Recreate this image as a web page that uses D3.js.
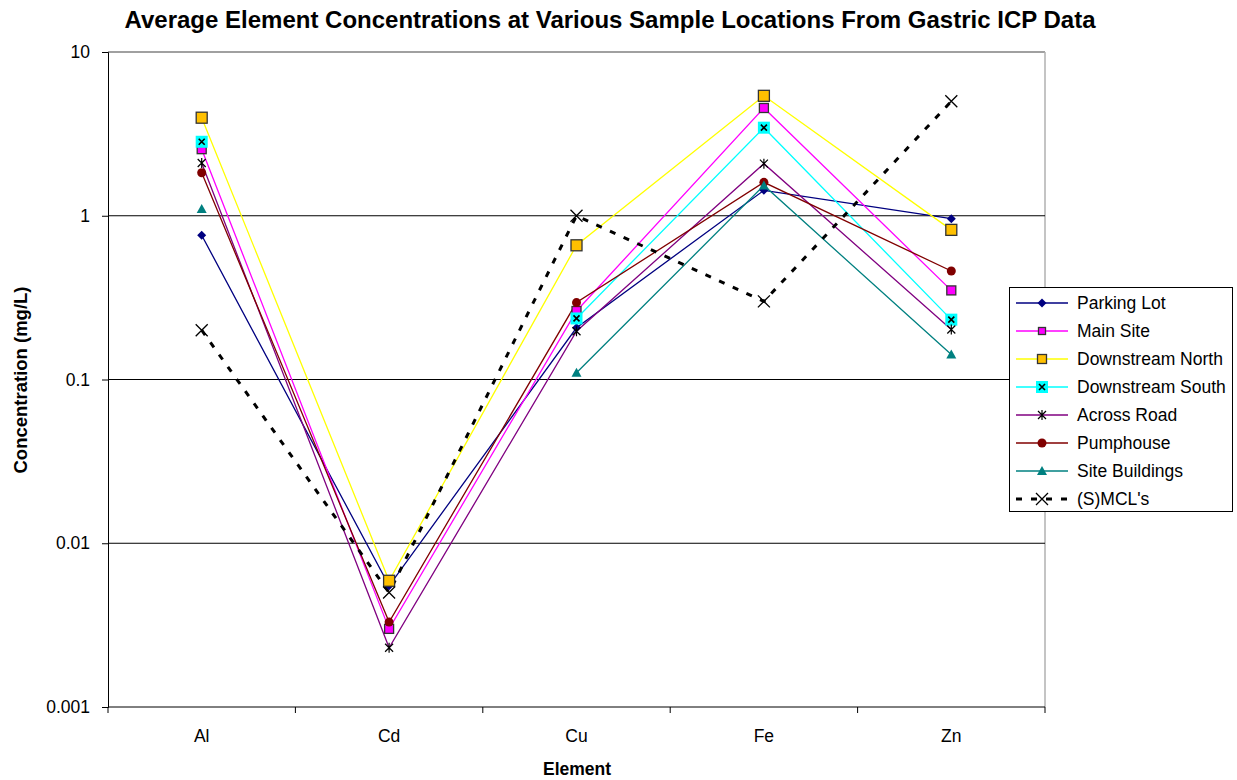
<!DOCTYPE html>
<html><head><meta charset="utf-8">
<script src="https://cdn.jsdelivr.net/npm/d3@7"></script>
<style>body{margin:0;background:#fff;} text{font-family:Arial,"Liberation Sans",sans-serif;}</style>
</head><body><svg id="c" width="1237" height="780"></svg>
<script>
const categories = ["Al","Cd","Cu","Fe","Zn"];
const yTicks = [0.001,0.01,0.1,1,10];
const seriesNames = ["Parking Lot","Main Site","Downstream North","Downstream South","Across Road","Pumphouse","Site Buildings","(S)MCL's"];
const parkingLot      = [0.76, 0.0055, 0.207, 1.43, 0.96];
const mainSite        = [2.55, 0.0030, 0.262, 4.55, 0.35];
const downstreamNorth = [3.97, 0.0059, 0.66, 5.4, 0.82];
const downstreamSouth = [2.83, null, 0.236, 3.45, 0.232];
const acrossRoad      = [2.1, 0.0023, 0.197, 2.08, 0.202];
const pumphouse       = [1.83, 0.0033, 0.295, 1.6, 0.46];
const siteBuildings   = [1.1, null, 0.11, 1.53, 0.142];
const mcl             = [0.2, 0.005, 1.0, 0.3, 5.0];

const styles = [
  {line:"#000080", marker:"diamond", fill:"#000080", stroke:"none"},
  {line:"#FF00FF", marker:"square", fill:"#FF00FF", stroke:"#333", size:9},
  {line:"#FFFF00", marker:"square", fill:"#FFC000", stroke:"#333", size:11},
  {line:"#00FFFF", marker:"xsquare", fill:"#00FFFF", stroke:"#000"},
  {line:"#800080", marker:"asterisk", fill:"none", stroke:"#000"},
  {line:"#800000", marker:"circle", fill:"#800000", stroke:"none"},
  {line:"#008080", marker:"triangle", fill:"#008080", stroke:"none"},
  {line:"#000", marker:"x", fill:"none", stroke:"#000", dash:"6,9", width:3}
];
const data = [parkingLot, mainSite, downstreamNorth, downstreamSouth, acrossRoad, pumphouse, siteBuildings, mcl];

const FS = 17.5;
const svg = d3.select("#c");
const L=108, R=1045, T=52, B=707;
const x = d3.scaleBand().domain(categories).range([L,R]);
const y = d3.scaleLog().domain([0.001,10]).range([B,T]);

// plot border
svg.append("line").attr("x1",L).attr("x2",R).attr("y1",T).attr("y2",T).attr("stroke","#808080").attr("stroke-width",1.5);
svg.append("line").attr("x1",R).attr("x2",R).attr("y1",T).attr("y2",B).attr("stroke","#b0b0b0").attr("stroke-width",1.5);
// gridlines
svg.append("g").selectAll("line").data(yTicks.filter(v=>v>0.001&&v<10)).join("line")
  .attr("x1",L).attr("x2",R).attr("y1",d=>y(d)).attr("y2",d=>y(d)).attr("stroke","#000").attr("stroke-width",1);

// y axis
const yAxis = d3.axisLeft(y).tickValues(yTicks).tickFormat(d=>String(d)).tickSizeOuter(0).tickSize(6).tickPadding(12);
const gy = svg.append("g").attr("transform",`translate(${L},0)`).call(yAxis);
gy.select(".domain").attr("stroke","#000");
gy.selectAll("text").attr("font-size",FS).attr("fill","#000").attr("font-family","Arial, 'Liberation Sans', sans-serif");
// x axis
const gx = svg.append("g").attr("transform",`translate(0,${B})`);
gx.append("line").attr("x1",L).attr("x2",R).attr("stroke","#000");
const bounds = categories.map(c=>x(c)).concat([R]);
gx.selectAll(".tk").data(bounds).join("line").attr("class","tk").attr("x1",d=>d).attr("x2",d=>d).attr("y1",0).attr("y2",6).attr("stroke","#000");
gx.selectAll(".lb").data(categories).join("text").attr("class","lb")
  .attr("x",d=>x(d)+x.bandwidth()/2).attr("y",35).attr("text-anchor","middle").attr("font-size",FS).text(d=>d);

// titles
svg.append("text").attr("x",610).attr("y",28).attr("text-anchor","middle").attr("font-size",24).attr("font-weight","bold").text("Average Element Concentrations at Various Sample Locations From Gastric ICP Data");
svg.append("text").attr("x",577).attr("y",775).attr("text-anchor","middle").attr("font-size",FS).attr("font-weight","bold").text("Element");
svg.append("text").attr("transform","translate(27,380) rotate(-90)").attr("text-anchor","middle").attr("font-size",18.5).attr("font-weight","bold").text("Concentration (mg/L)");

function drawMarker(g, st, cx, cy){
  const s = st.size||7;
  switch(st.marker){
    case "diamond": g.append("path").attr("d",`M${cx},${cy-4.5}L${cx+4.5},${cy}L${cx},${cy+4.5}L${cx-4.5},${cy}Z`).attr("fill",st.fill); break;
    case "square": g.append("rect").attr("x",cx-s/2).attr("y",cy-s/2).attr("width",s).attr("height",s).attr("fill",st.fill).attr("stroke",st.stroke).attr("stroke-width",1.3); break;
    case "xsquare":
      g.append("rect").attr("x",cx-6).attr("y",cy-6).attr("width",12).attr("height",12).attr("fill",st.fill);
      g.append("path").attr("d",`M${cx-3},${cy-3}L${cx+3},${cy+3}M${cx+3},${cy-3}L${cx-3},${cy+3}`).attr("stroke","#000").attr("stroke-width",1.6); break;
    case "asterisk":
      g.append("path").attr("d",`M${cx-4},${cy-4}L${cx+4},${cy+4}M${cx+4},${cy-4}L${cx-4},${cy+4}M${cx},${cy-5}L${cx},${cy+5}`).attr("stroke","#000").attr("stroke-width",1.2); break;
    case "circle": g.append("circle").attr("cx",cx).attr("cy",cy).attr("r",4.5).attr("fill",st.fill); break;
    case "triangle": g.append("path").attr("d",`M${cx},${cy-5}L${cx+5},${cy+4}L${cx-5},${cy+4}Z`).attr("fill",st.fill); break;
    case "x": g.append("path").attr("d",`M${cx-6},${cy-6}L${cx+6},${cy+6}M${cx+6},${cy-6}L${cx-6},${cy+6}`).attr("stroke","#000").attr("stroke-width",1.3); break;
  }
}

const cxOf = c => x(c)+x.bandwidth()/2;
data.forEach((vals,i)=>{
  const st = styles[i];
  const pts = vals.map((v,j)=>({c:categories[j],v}));
  const line = d3.line().defined(d=>d.v!=null).x(d=>cxOf(d.c)).y(d=>y(d.v));
  svg.append("path").datum(pts).attr("d",line).attr("fill","none").attr("stroke",st.line)
    .attr("stroke-width",st.width||1.3).attr("stroke-dasharray",st.dash||null);
});
data.forEach((vals,i)=>{
  const g = svg.append("g");
  vals.forEach((v,j)=>{ if(v!=null) drawMarker(g, styles[i], cxOf(categories[j]), y(v)); });
});

// legend
const lg = svg.append("g");
lg.append("rect").attr("x",1009.5).attr("y",287.5).attr("width",223).attr("height",224).attr("fill","#fff").attr("stroke","#000");
seriesNames.forEach((n,i)=>{
  const yy = 303 + i*28;
  const st = styles[i];
  lg.append("line").attr("x1",1016).attr("x2",1068).attr("y1",yy).attr("y2",yy).attr("stroke",st.line)
    .attr("stroke-width",st.width||1.3).attr("stroke-dasharray",st.dash||null);
  drawMarker(lg, Object.assign({},st, st.size?{size:st.size-2}:{}), 1042, yy);
  lg.append("text").attr("x",1077).attr("y",yy+6).attr("font-size",FS).text(n);
});
</script></body></html>
